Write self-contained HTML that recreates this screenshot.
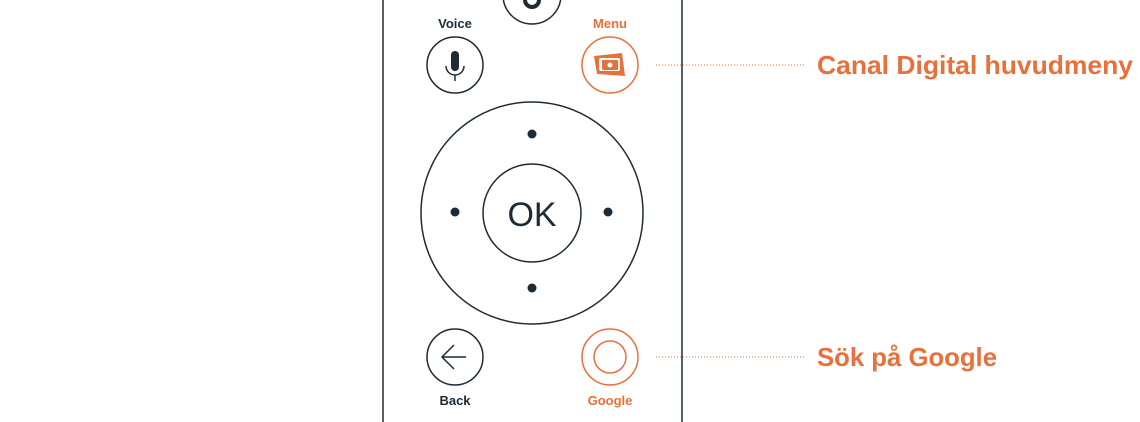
<!DOCTYPE html>
<html><head><style>
body{margin:0;background:#fff;}
</style></head><body>
<svg width="1140" height="422" viewBox="0 0 1140 422" xmlns="http://www.w3.org/2000/svg" style="display:block">
<g fill="none" stroke="#1c2b36" stroke-width="1.5">
<line x1="383" y1="0" x2="383" y2="422"/>
<line x1="682" y1="0" x2="682" y2="422"/>
<circle cx="532" cy="-5" r="29"/>
<path d="M525 0 a7 7 0 0 0 14 0" stroke-width="4"/>
<circle cx="455" cy="65" r="28"/>
<circle cx="532" cy="213" r="111"/>
<circle cx="532" cy="213" r="49"/>
<circle cx="455" cy="357" r="28"/>
<path d="M442 357 h24 M454 345 l-12 12 l12 12"/>
<path d="M446 66 a9 9 0 0 0 18 0 M455 75 v6"/>
</g>
<rect x="451" y="51" width="8" height="20" rx="4" fill="#1c2b36"/>
<g fill="#1c2b36">
<circle cx="532" cy="134" r="4.5"/><circle cx="455" cy="212" r="4.5"/>
<circle cx="608" cy="212" r="4.5"/><circle cx="532" cy="288" r="4.5"/>
</g>
<g fill="none" stroke="#e8703a" stroke-width="1.5">
<circle cx="610" cy="65" r="28"/>
<circle cx="610" cy="357" r="28"/>
<circle cx="610" cy="357" r="16"/>
<line x1="656" y1="65" x2="805" y2="65" stroke-dasharray="1 2" stroke-width="1"/>
<line x1="656" y1="357" x2="805" y2="357" stroke-dasharray="1 2" stroke-width="1"/>
</g>
<path d="M594 56 L622 53 L625 76 L597 74 Z" fill="#e8703a"/>
<rect x="599" y="58" width="21" height="13" rx="2" fill="#fff"/>
<rect x="602" y="60" width="16" height="10" rx="1" fill="#e8703a"/>
<circle cx="610" cy="65" r="2.5" fill="#fff"/>
<g font-family="Liberation Sans, sans-serif" font-weight="bold" text-anchor="middle" font-size="13">
<text x="455" y="28" fill="#1c2b36">Voice</text>
<text x="610" y="28" fill="#e8703a">Menu</text>
<text x="455" y="405" fill="#1c2b36">Back</text>
<text x="610" y="405" fill="#e8703a">Google</text>
</g>
<text x="532" y="226" font-family="Liberation Sans, sans-serif" font-size="34" text-anchor="middle" fill="#1c2b36">OK</text>
<g font-family="Liberation Sans, sans-serif" font-weight="bold" font-size="26" fill="#e8703a">
<text x="817" y="74" textLength="316" lengthAdjust="spacingAndGlyphs">Canal Digital huvudmeny</text>
<text x="817" y="366" textLength="180" lengthAdjust="spacingAndGlyphs">Sök på Google</text>
</g>
</svg>
</body></html>
